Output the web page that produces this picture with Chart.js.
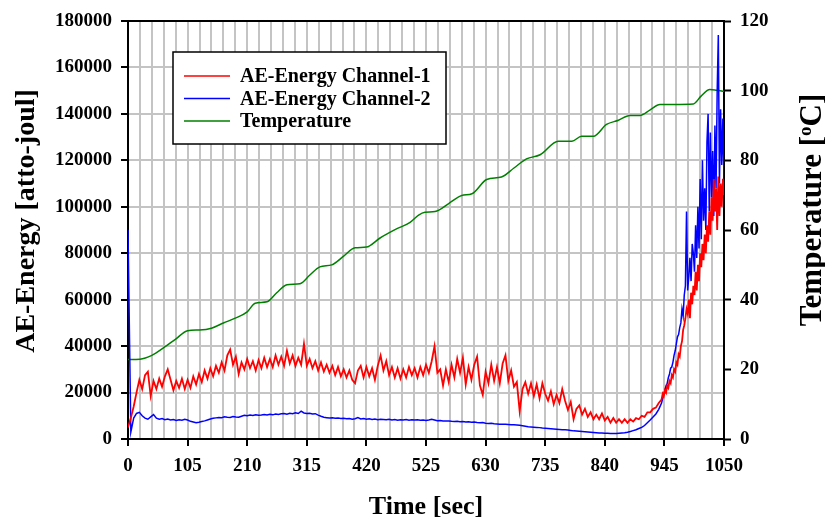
<!DOCTYPE html>
<html>
<head>
<meta charset="utf-8">
<script src="https://cdn.jsdelivr.net/npm/chart.js@4.4.1/dist/chart.umd.min.js"></script>
<style>
  html, body { margin: 0; padding: 0; background: #fff; }
  #wrap { width: 825px; height: 523px; }
</style>
</head>
<body>
<div id="wrap"><canvas id="aeChart" width="825" height="523"></canvas></div>
<script>
// time axis for the AE channels (sec), finer near the end
const times = [
    0, 5, 10, 15, 20, 25, 30, 35, 40, 45,
    50, 55, 60, 65, 70, 75, 80, 85, 90, 95,
    100, 105, 110, 115, 120, 125, 130, 135, 140, 145,
    150, 155, 160, 165, 170, 175, 180, 185, 190, 195,
    200, 205, 210, 215, 220, 225, 230, 235, 240, 245,
    250, 255, 260, 265, 270, 275, 280, 285, 290, 295,
    300, 305, 310, 315, 320, 325, 330, 335, 340, 345,
    350, 355, 360, 365, 370, 375, 380, 385, 390, 395,
    400, 405, 410, 415, 420, 425, 430, 435, 440, 445,
    450, 455, 460, 465, 470, 475, 480, 485, 490, 495,
    500, 505, 510, 515, 520, 525, 530, 535, 540, 545,
    550, 555, 560, 565, 570, 575, 580, 585, 590, 595,
    600, 605, 610, 615, 620, 625, 630, 635, 640, 645,
    650, 655, 660, 665, 670, 675, 680, 685, 690, 695,
    700, 705, 710, 715, 720, 725, 730, 735, 740, 745,
    750, 755, 760, 765, 770, 775, 780, 785, 790, 795,
    800, 805, 810, 815, 820, 825, 830, 835, 840, 845,
    850, 855, 860, 865, 870, 875, 880, 885, 890, 895,
    900, 905, 910, 915, 920, 925, 930, 935,
    940, 942, 944, 946, 948, 950, 952, 954, 956, 958,
    960, 962, 964, 966, 968, 970, 972, 974, 976, 978,
    980, 982, 984, 986, 988, 990, 992, 994, 996, 998,
    1000, 1002, 1004, 1006, 1008, 1010, 1012, 1014, 1016, 1018,
    1020, 1022, 1024, 1026, 1028, 1030, 1032, 1034, 1036, 1038,
    1040, 1042, 1044, 1046, 1048, 1050
];

// AE-Energy Channel-1 (atto-joule)
const channel1 = [
    5000, 9000, 14000, 20000, 25500, 21500, 27500, 29000, 18500, 25000,
    21500, 26000, 22500, 27000, 30000, 25500, 21000, 25000, 22000, 26000,
    21500, 25500, 22000, 27000, 23500, 28000, 24500, 29500, 26000, 30500,
    27000, 31500, 28500, 33000, 29500, 36000, 38500, 32000, 35500, 28000,
    33000, 30000, 34500, 30500, 33500, 29500, 34000, 30500, 35000, 31000,
    34500, 31000, 36000, 32000, 35500, 31500, 38000, 32500, 36000, 31500,
    35000, 32000, 41000, 31500, 34500, 30500, 33500, 29500, 33000, 29000,
    32000, 28500, 31500, 27500, 31000, 27000, 30000, 26500, 29500, 25500,
    24000, 29500, 31500, 26500, 31000, 27000, 30500, 25500, 31500, 36000,
    29500, 33500, 27500, 31000, 26500, 30500, 26000, 30000, 26500, 31000,
    27500, 30500, 26500, 31000, 27500, 32000, 28500, 33500, 40000, 28500,
    30000, 23000, 30000, 24500, 32000, 26500, 34500, 28500, 35000, 23500,
    31000, 25500, 32000, 35500, 23000, 19000, 29000, 24000, 32000, 25000,
    31000, 24000, 32500, 36000, 25000, 29500, 22500, 24500, 12000, 21500,
    24500, 19500, 24000, 18500, 23500, 17500, 24000, 19500, 16500, 20500,
    15000, 19000, 15500, 21500, 16500, 12500, 16000, 8500, 13000, 14500,
    10500, 13000, 9500, 11500, 8500, 10500, 8500, 11000, 8000, 9500,
    7000, 9000, 7000, 8500, 7000, 8500, 7000, 8500, 7500, 9000,
    8500, 10000, 9500, 11500, 11500, 13000, 13500, 15500,
    17000, 19500, 18500, 21000, 20000, 23000, 22000, 25000, 24000, 27500,
    26500, 30000, 29000, 33000, 32000, 36500, 35500, 40000, 42000, 47000,
    49000, 52000, 56000, 54000, 60000, 52000, 63000, 58000, 66000, 62000,
    72000, 64000, 75000, 68000, 80000, 74000, 84000, 77000, 88000, 80000,
    92000, 85000, 98000, 88000, 104000, 94000, 112000, 98000, 108000, 90000,
    113000, 96000, 110000, 100000, 112000, 105000
];

// AE-Energy Channel-2 (atto-joule)
const channel2 = [
    90000, 3000, 9000, 11000, 11500, 10000, 9000, 8500, 9500, 10500,
    9000, 8500, 8800, 8300, 8600, 8200, 8400, 8000, 8300, 8100,
    8500, 8200, 7600, 7300, 7000, 7200, 7500, 7800, 8200, 8600,
    8900, 9100, 9300, 9200, 9600, 9400, 9300, 9700, 9500, 9400,
    9800, 10200, 10000, 10300, 10100, 10400, 10200, 10300, 10500, 10300,
    10600, 10400, 10800, 10600, 10900, 11000, 10700, 11100, 10900, 11300,
    11000, 12000, 11200, 11000, 11100, 10800, 10900, 10300, 9800, 9400,
    9200, 9000, 9100, 8900, 9000, 8800, 8900, 8700, 8800, 8500,
    8700, 9200, 8600, 8800, 8500, 8700, 8400, 8600, 8300, 8500,
    8400, 8300, 8500, 8200, 8400, 8100, 8300, 8200, 8400, 8100,
    8300, 8200, 8300, 8100, 8200, 8000, 8200, 8500, 8200, 7900,
    8000, 7800, 7700, 7800, 7600, 7500, 7600, 7400, 7500, 7300,
    7400, 7200, 7300, 7100, 7000, 7100, 6800, 6700, 6800, 6600,
    6500, 6400, 6400, 6300, 6200, 6100, 6100, 6000, 5900, 5700,
    5500, 5300, 5200, 5100, 5000, 4900, 4700, 4600, 4500, 4400,
    4300, 4200, 4100, 4000, 4000, 3900, 3700, 3500, 3400, 3300,
    3200, 3100, 3000, 2900, 2800, 2700, 2600, 2600, 2500, 2500,
    2400, 2400, 2400, 2500, 2600, 2700, 2900, 3200, 3600, 4000,
    4500, 5000, 5800, 7000, 8200, 9500, 10800, 12800,
    15500, 17500, 19500, 21000, 23000, 24000, 26500, 28000, 30500, 31000,
    33000, 36000, 38000, 41000, 44000, 45000, 48000, 50000, 56000, 53000,
    62000, 66000, 98000, 64000, 70000, 78000, 68000, 84000, 80000, 72000,
    92000, 78000, 100000, 82000, 112000, 86000, 120000, 94000, 108000, 90000,
    128000, 140000, 98000, 132000, 104000, 124000, 96000, 135000, 108000, 150000,
    174000, 110000, 142000, 118000, 138000, 112000
];

// temperature (deg C) read at its own time points
const tempTimes = [
    0, 21, 42, 63, 84, 105, 126, 147, 168, 189,
    210, 224, 245, 262, 280, 303, 320, 338, 359, 380,
    400, 420, 444, 473, 497, 512, 523, 541, 565, 588,
    606, 632, 658, 680, 702, 726, 758, 782, 799, 820,
    843, 864, 884, 902, 920, 937, 996, 1010, 1025, 1037,
    1050
];
const temperature = [
    22.8, 22.9, 24.0, 26.2, 28.7, 31.1, 31.3, 31.8, 33.3, 34.7,
    36.5, 39.0, 39.4, 42.0, 44.3, 44.6, 47.0, 49.4, 50.0, 52.5,
    54.9, 55.1, 57.7, 60.3, 62.2, 64.3, 65.1, 65.3, 67.6, 69.9,
    70.4, 74.5, 75.2, 77.8, 80.4, 81.6, 85.5, 85.5, 86.9, 86.9,
    90.3, 91.5, 92.9, 92.9, 94.5, 96.0, 96.2, 98.5, 100.3, 100.1,
    99.8
];

const seriesLabels = ['AE-Energy Channel-1', 'AE-Energy Channel-2', 'Temperature'];
const seriesColors = ['#ff0000', '#0000ff', '#008000'];

const serif = "'Liberation Serif', 'Times New Roman', serif";
const gridGray = '#c4c4c4';

const toPoints = (xs, ys) => xs.map((x, i) => ({ x: x, y: ys[i] }));

// draws rotated text reading bottom-to-top, parts may be raised (superscript)
function drawVertical(ctx, parts, x, y) {
    let total = 0;
    parts.forEach(p => { ctx.font = p.f; p.w = ctx.measureText(p.t).width; total += p.w; });
    ctx.save();
    ctx.translate(x, y);
    ctx.rotate(-Math.PI / 2);
    ctx.fillStyle = '#000';
    ctx.textBaseline = 'alphabetic';
    ctx.textAlign = 'left';
    let cx = -total / 2;
    parts.forEach(p => {
        ctx.font = p.f;
        ctx.fillText(p.t, cx, p.dy);
        cx += p.w;
    });
    ctx.restore();
}

// legend box, top frame line and the two vertical titles
const decorations = {
    id: 'decorations',
    afterDraw(chart) {
        const ctx = chart.ctx;
        const area = chart.chartArea;

        ctx.save();
        ctx.strokeStyle = '#000';
        ctx.lineWidth = 2;
        ctx.beginPath();
        ctx.moveTo(area.left - 1, area.top);
        ctx.lineTo(area.right + 1, area.top);
        ctx.stroke();

        // legend
        const bx = 173, by = 52, bw = 273, bh = 92;
        ctx.fillStyle = '#fff';
        ctx.fillRect(bx, by, bw, bh);
        ctx.lineWidth = 1.5;
        ctx.strokeRect(bx, by, bw, bh);
        ctx.font = 'bold 20px ' + serif;
        ctx.textBaseline = 'middle';
        ctx.textAlign = 'left';
        chart.data.datasets.forEach((ds, i) => {
            const y = 76 + i * 22.5;
            ctx.strokeStyle = ds.borderColor;
            ctx.lineWidth = 1.5;
            ctx.beginPath();
            ctx.moveTo(184, y);
            ctx.lineTo(230, y);
            ctx.stroke();
            ctx.fillStyle = '#000';
            ctx.fillText(ds.label, 240, y + 1);
        });
        ctx.restore();

        drawVertical(ctx, [
            { t: 'AE-Energy [atto-joul]', f: 'bold 28px ' + serif, dy: 0 }
        ], 34, 221);

        drawVertical(ctx, [
            { t: 'Temperature [', f: 'bold 31px ' + serif, dy: 0 },
            { t: 'o', f: 'bold 19px ' + serif, dy: -10 },
            { t: 'C]', f: 'bold 31px ' + serif, dy: 0 }
        ], 821, 210);
    }
};

new Chart(document.getElementById('aeChart'), {

    type: 'line',

    data: {
        datasets: [
            {
                label: seriesLabels[0],
                data: toPoints(times, channel1),
                borderColor: seriesColors[0],
                borderWidth: 1.8,
                pointRadius: 0,
                tension: 0,
                yAxisID: 'y'
            },
            {
                label: seriesLabels[1],
                data: toPoints(times, channel2),
                borderColor: seriesColors[1],
                borderWidth: 1.5,
                pointRadius: 0,
                tension: 0,
                yAxisID: 'y'
            },
            {
                label: seriesLabels[2],
                data: toPoints(tempTimes, temperature),
                borderColor: seriesColors[2],
                borderWidth: 1.5,
                pointRadius: 0,
                cubicInterpolationMode: 'monotone',
                yAxisID: 'y2'
            }
        ]
    },

    options: {
        responsive: false,
        animation: false,
        events: [],
        layout: {
            padding: { top: 21, left: 0, right: 0, bottom: 0 }
        },
        plugins: {
            legend: { display: false },
            tooltip: { enabled: false }
        },
        scales: {
            x: {
                type: 'linear',
                min: 0,
                max: 1050,
                afterFit: s => { s.height = 84; },
                ticks: {
                    stepSize: 21,
                    autoSkip: false,
                    maxRotation: 0,
                    padding: 9,
                    color: '#000',
                    font: { family: serif, size: 19, weight: 'bold' },
                    callback: v => (v % 105 === 0 ? v : '')
                },
                grid: {
                    color: gridGray,
                    lineWidth: 2,
                    tickLength: 7,
                    tickWidth: 2,
                    tickColor: c => (c.tick && c.tick.value % 105 === 0 ? '#000' : 'rgba(0,0,0,0)')
                },
                border: { color: '#000', width: 2 },
                title: {
                    display: true,
                    text: 'Time [sec]',
                    color: '#000',
                    font: { family: serif, size: 26, weight: 'bold' },
                    padding: { top: 0, bottom: 0 }
                }
            },
            y: {
                position: 'left',
                min: 0,
                max: 180000,
                afterFit: s => { s.width = 128; },
                ticks: {
                    stepSize: 10000,
                    padding: 9,
                    color: '#000',
                    font: { family: serif, size: 19, weight: 'bold' },
                    callback: v => (v % 20000 === 0 ? v : '')
                },
                grid: {
                    color: gridGray,
                    lineWidth: 2,
                    tickLength: 7,
                    tickWidth: 2,
                    tickColor: c => (c.tick && c.tick.value % 20000 === 0 ? '#000' : 'rgba(0,0,0,0)')
                },
                border: { color: '#000', width: 2 }
            },
            y2: {
                position: 'right',
                min: 0,
                max: 120,
                afterFit: s => { s.width = 101; },
                ticks: {
                    stepSize: 20,
                    padding: 9,
                    color: '#000',
                    font: { family: serif, size: 19, weight: 'bold' }
                },
                grid: {
                    drawOnChartArea: false,
                    tickLength: 7,
                    tickWidth: 2,
                    tickColor: '#000'
                },
                border: { color: '#000', width: 2 }
            }
        }
    },

    plugins: [decorations]

});
</script>
</body>
</html>
